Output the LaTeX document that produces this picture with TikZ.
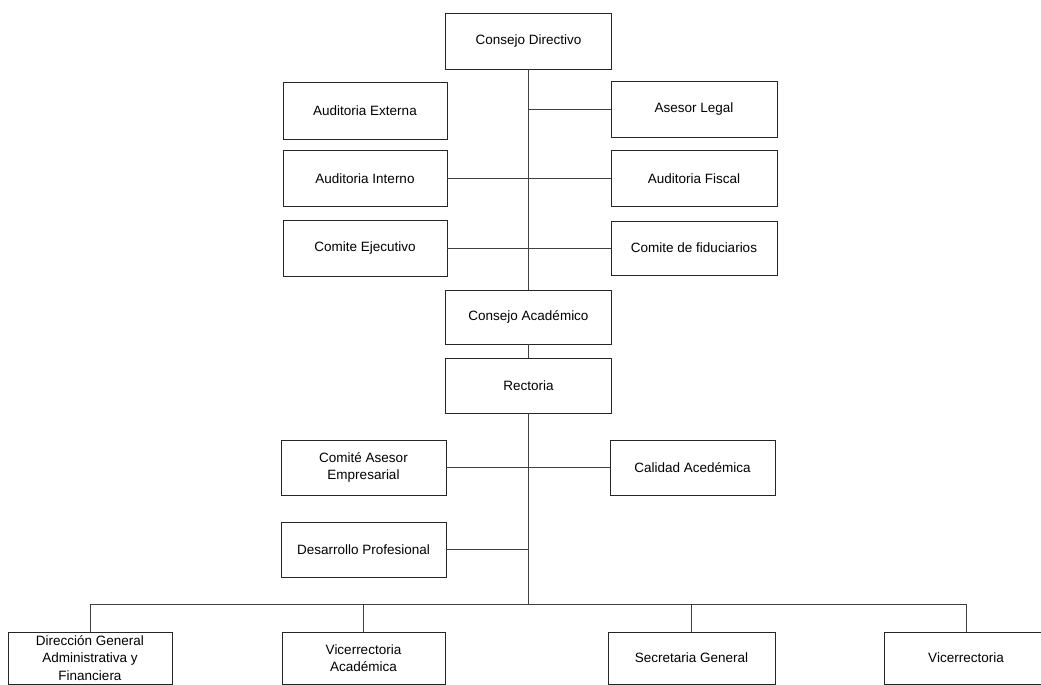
\documentclass[tikz,border=0pt]{standalone}
\usepackage{fontspec}
\setmainfont{Liberation Sans}
\begin{document}
\begin{tikzpicture}[x=1pt,y=-1pt,
  unit/.style={draw=black!85, line width=0.9pt, inner sep=0pt, align=center,
    font=\fontsize{13.5}{17.5}\selectfont, text=black},
  link/.style={draw=black!75, line width=0.75pt}]
\useasboundingbox (0,0) rectangle (1041,685);
\clip (0,0) rectangle (1041,685);

% board level
\node[unit, minimum width=166pt, minimum height=56pt] (cd) at (528.5,41) {Consejo Directivo};
\node[unit, minimum width=164pt, minimum height=57pt] (ae) at (365,110.5) {Auditoria Externa};
\node[unit, minimum width=166pt, minimum height=56pt] (al) at (694,109) {Asesor Legal};
\node[unit, minimum width=164pt, minimum height=56pt] (ai) at (365,178.5) {Auditoria Interno};
\node[unit, minimum width=166pt, minimum height=56pt] (af) at (694,178.5) {Auditoria Fiscal};
\node[unit, minimum width=164pt, minimum height=56pt] (ce) at (365,248) {Comite Ejecutivo};
\node[unit, minimum width=166pt, minimum height=54pt] (cf) at (694,248) {Comite de fiduciarios};

% academic level
\node[unit, minimum width=166pt, minimum height=54pt] (ca) at (528.5,317) {Consejo Académico};
\node[unit, minimum width=166pt, minimum height=55pt] (re) at (528.5,385.5) {Rectoria};
\node[unit, minimum width=165pt, minimum height=55pt] (cae) at (363.5,467.5) {Comité Asesor\\Empresarial};
\node[unit, minimum width=165pt, minimum height=55pt] (cal) at (692.5,467.5) {Calidad Acedémica};
\node[unit, minimum width=165pt, minimum height=55pt] (dp) at (363.5,549.5) {Desarrollo Profesional};

% operating units
\node[unit, minimum width=164pt, minimum height=52pt] (dg) at (90,658) {Dirección General\\Administrativa y\\Financiera};
\node[unit, minimum width=163pt, minimum height=52pt] (va) at (363.5,658) {Vicerrectoria\\Académica};
\node[unit, minimum width=167pt, minimum height=52pt] (sg) at (691.5,658) {Secretaria General};
\node[unit, minimum width=164pt, minimum height=52pt] (vr) at (966,658) {Vicerrectoria};

\coordinate (bus) at (528.5,604);

% main line
\draw[link] (cd) -- (ca);
\draw[link] (ca) -- (re);
\draw[link] (re) -- (bus);

% staff links
\draw[link] (al.west) -- (al.west -| cd.south);
\draw[link] (ai.east) -- (af.west);
\draw[link] (ce.east) -- (cf.west);
\draw[link] (cae.east) -- (cal.west);
\draw[link] (dp.east) -- (dp.east -| re.south);

% distribution bus
\draw[link] (dg.north) -- (dg.north |- bus) -- (vr.north |- bus) -- (vr.north);
\draw[link] (va.north) -- (va.north |- bus);
\draw[link] (sg.north) -- (sg.north |- bus);
\end{tikzpicture}
\end{document}
